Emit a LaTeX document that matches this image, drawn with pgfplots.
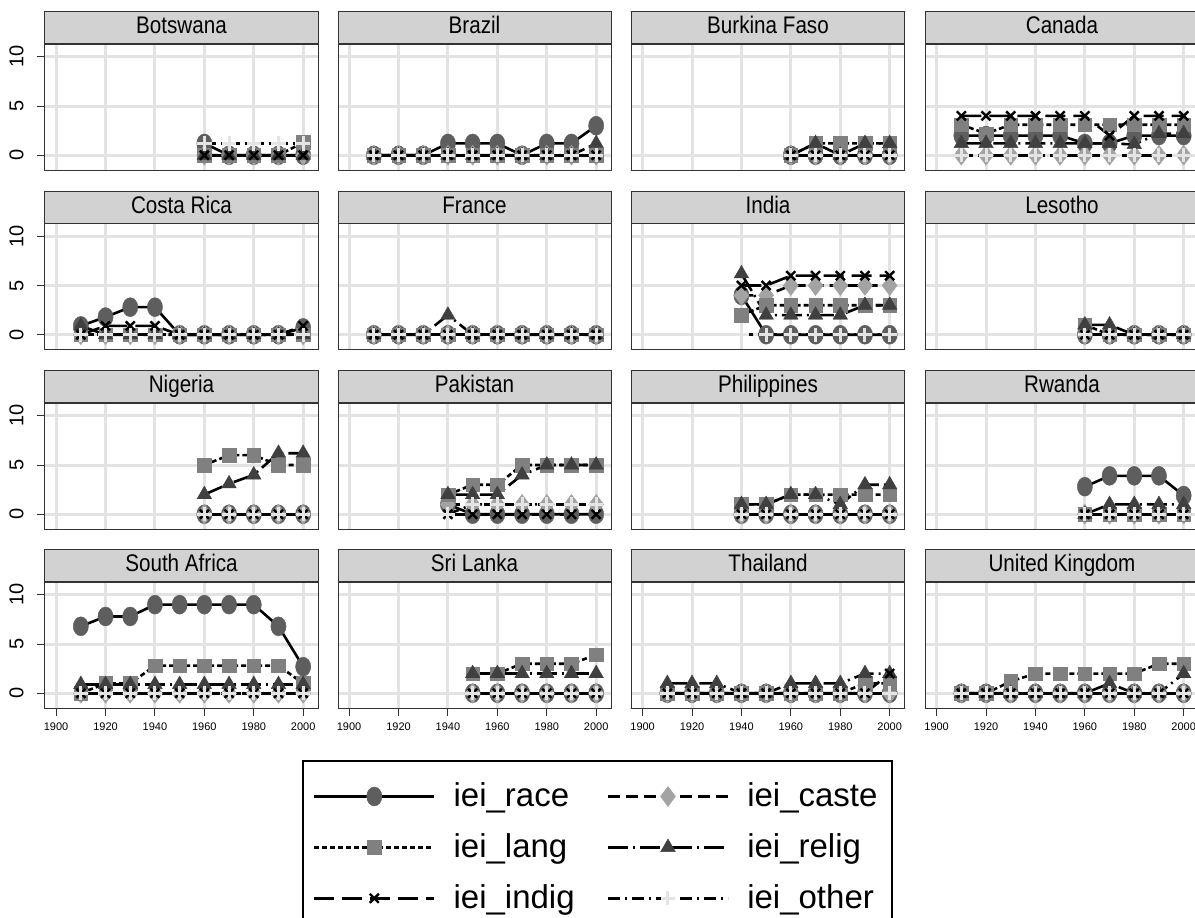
\documentclass[border=0pt]{standalone}
\usepackage{graphicx}
\usepackage{pgfplots}
\usepackage{pgfplotstable}
\pgfplotsset{compat=1.18}
\usepackage{fontspec}
\setmainfont{Liberation Sans}

\definecolor{cRace}{HTML}{5E5E5E}
\definecolor{cCaste}{HTML}{A3A3A3}
\definecolor{cLang}{HTML}{808080}
\definecolor{cRelig}{HTML}{404040}
\definecolor{cOther}{HTML}{E4E4E4}

% data: year race caste lang relig indig other
\pgfplotstableread{
year race caste lang relig indig other
1960 1.2 0 0 0 0 1.2
1970 0 0 0 0 0 1.2
1980 0 0 0 0 0 1.2
1990 0 0 0 0 0 1.2
2000 0 0 1.3 0 0 1.2
}\tBotswana
\pgfplotstableread{
year race caste lang relig indig other
1910 0 0 0 0 0 0
1920 0 0 0 0 0 0
1930 0 0 0 0 0 0
1940 1.2 0 0 0 0 0
1950 1.2 0 0 0 0 0
1960 1.2 0 0 0 0 0
1970 0 0 0 0 0 0
1980 1.2 0 0 0 0 0
1990 1.2 0 0 0 0 0
2000 3 0 0 1.2 0 0
}\tBrazil
\pgfplotstableread{
year race caste lang relig indig other
1960 0 0 0 0 0 0
1970 0 0 1.2 1.2 0 0
1980 0 0 1.2 0 0 0
1990 0 0 1.2 1.2 0 0
2000 0 0 1.2 1.2 0 0
}\tBurkina
\pgfplotstableread{
year race caste lang relig indig other
1910 2 0 3.1 1.2 4 0
1920 2 0 2.2 1.2 4 0
1930 2 0 3.1 1.2 4 0
1940 2 0 3.1 1.2 4 0
1950 2 0 3.1 1.2 4 0
1960 1.2 0 3.1 1.2 4 0
1970 1.2 0 3.1 1.2 2 0
1980 2 0 3.1 1.1 4 0
1990 2 0 3.1 2.2 4 0
2000 2 0 3.1 2.2 4 0
}\tCanada
\pgfplotstableread{
year race caste lang relig indig other
1910 0.9 0 0 0.9 0 0
1920 1.8 0 0 0 0.9 0
1930 2.8 0 0 0 0.9 0
1940 2.8 0 0 0 0.9 0
1950 0 0 0 0 0 0
1960 0 0 0 0 0 0
1970 0 0 0 0 0 0
1980 0 0 0 0 0 0
1990 0 0 0 0 0 0
2000 0.7 0 0 0 0.9 0
}\tCosta
\pgfplotstableread{
year race caste lang relig indig other
1910 0 0 0 0 0 0
1920 0 0 0 0 0 0
1930 0 0 0 0 0 0
1940 0 0 0 2 0 0
1950 0 0 0 0 0 0
1960 0 0 0 0 0 0
1970 0 0 0 0 0 0
1980 0 0 0 0 0 0
1990 0 0 0 0 0 0
2000 0 0 0 0 0 0
}\tFrance
\pgfplotstableread{
year race caste lang relig indig other
1940 4 4 2 6.2 5 0
1950 0 4 3 2 5 0
1960 0 5 3 2 6 0
1970 0 5 3 2 6 0
1980 0 5 3 2 6 0
1990 0 5 3 3 6 0
2000 0 5 3 3 6 0
}\tIndia
\pgfplotstableread{
year race caste lang relig indig other
1960 0 0 1 1 0 0
1970 0 0 0 1 0 0
1980 0 0 0 0 0 0
1990 0 0 0 0 0 0
2000 0 0 0 0 0 0
}\tLesotho
\pgfplotstableread{
year race caste lang relig indig other
1960 0 0 5 2 0 0
1970 0 0 6 3.1 0 0
1980 0 0 6 4 0 0
1990 0 0 5 6.2 0 0
2000 0 0 5 6.2 0 0
}\tNigeria
\pgfplotstableread{
year race caste lang relig indig other
1940 1 1 2 2 0 0
1950 0 1 3 2 0 1
1960 0 1 3 2 0 1
1970 0 1 5 4 0 1
1980 0 1 5 5 0 1
1990 0 1 5 5 0 1
2000 0 1 5 5 0 1
}\tPakistan
\pgfplotstableread{
year race caste lang relig indig other
1940 0 0 1 1 0 0
1950 0 0 1 1 0 0
1960 0 0 2 2 0 0
1970 0 0 2 2 0 0
1980 0 0 2 1 0 0
1990 0 0 2 3 0 0
2000 0 0 2 3 0 0
}\tPhilippines
\pgfplotstableread{
year race caste lang relig indig other
1960 2.8 0 0 0 0 0
1970 3.9 0 0 1 0 0
1980 3.9 0 0 1 0 0
1990 3.9 0 0 1 0 0
2000 1.9 0 0 1 0 0
}\tRwanda
\pgfplotstableread{
year race caste lang relig indig other
1910 6.8 0 0 0.9 0 0
1920 7.8 0 1 0.9 0 0
1930 7.8 0 1 0.9 0 0
1940 9 0 2.8 0.9 0 0
1950 9 0 2.8 0.9 0 0
1960 9 0 2.8 0.9 0 0
1970 9 0 2.8 0.9 0 0
1980 9 0 2.8 0.9 0 0
1990 6.8 0 2.8 0.9 0 0
2000 2.7 0 1 0.9 0 0
}\tSouthAfrica
\pgfplotstableread{
year race caste lang relig indig other
1950 0 0 2 2 0 0
1960 0 0 2 2 0 0
1970 0 0 3 2 0 0
1980 0 0 3 2 0 0
1990 0 0 3 2 0 0
2000 0 0 3.9 2 0 0
}\tSriLanka
\pgfplotstableread{
year race caste lang relig indig other
1910 0 0 0 1 0 0
1920 0 0 0 1 0 0
1930 0 0 0 1 0 0
1940 0 0 0 0 0 0
1950 0 0 0 0 0 0
1960 0 0 0 1 0 0
1970 0 0 0 1 0 0
1980 0 0 0 1 0 0
1990 0 0 1 2 0 0
2000 0 0 1 2 2 0
}\tThailand
\pgfplotstableread{
year race caste lang relig indig other
1910 0 0 0 0 0 0
1920 0 0 0 0 0 0
1930 0 0 1.2 0 0 0
1940 0 0 2 0 0 0
1950 0 0 2 0 0 0
1960 0 0 2 0 0 0
1970 0 0 2 1 0 0
1980 0 0 2 0 0 0
1990 0 0 3 0 0 0
2000 0 0 3 2 0 0
}\tUK

\pgfplotsset{
  legend image code/.code={\draw[mark repeat=2,mark phase=2,#1] plot coordinates {(0pt,0pt) (30pt,0pt) (60pt,0pt)};},
}
\newcommand{\hd}[1]{\scalebox{0.86}[1]{#1}}
\pgfplotsset{
  every axis title shift=0pt,
  ser/.style={line width=1.3pt, black},
  race/.style={ser, solid, mark=*, mark size=3.8pt,
    mark options={solid, draw=cRace, fill=cRace, yscale=1.25, line width=0.2pt}},
  caste/.style={ser, dash pattern=on 6pt off 3pt, mark=diamond*, mark size=5pt,
    mark options={solid, draw=cCaste, fill=cCaste, line width=0.2pt}},
  lang/.style={ser, dash pattern=on 2.5pt off 1.5pt, mark=square*, mark size=3.4pt,
    mark options={solid, draw=cLang, fill=cLang, line width=0.2pt}},
  relig/.style={ser, dash pattern=on 10pt off 2.5pt on 1pt off 2.5pt, mark=triangle*, mark size=4.2pt,
    mark options={solid, draw=cRelig, fill=cRelig, line width=0.2pt}},
  indig/.style={ser, dash pattern=on 10pt off 4pt, mark=x, mark size=3.2pt,
    mark options={solid, draw=black, line width=1.2pt}},
  other/.style={ser, dash pattern=on 6pt off 2.5pt on 1pt off 2.5pt, mark=+, mark size=3.6pt,
    mark options={solid, draw=cOther, line width=1.5pt}},
  panel/.style={
    scale only axis, width=136.5pt, height=63pt, anchor=north west,
    xmin=1895.5, xmax=2006, ymin=-1.5, ymax=11.3,
    xtick={1900,1920,1940,1960,1980,2000}, ytick={0,5,10},
    xticklabels={}, yticklabels={},
    grid=major, major grid style={line width=1.5pt, color=gray!22},
    axis line style={line width=0.5pt, black!80},
    tick pos=left, tick align=outside, major tick length=4pt,
    xtick style={draw=none}, ytick style={draw=none},
    clip=false,
    title style={at={(0.5,1)}, anchor=south, draw=black!80, line width=0.5pt,
      fill=gray!35, minimum width=136.5pt, minimum height=16pt, inner sep=0pt,
      text height=8.6pt, text depth=2.6pt,
      yshift=0pt, font=\fontsize{12}{14}\selectfont},
  },
  ylab/.style={yticklabels={0,5,10}, ytick style={draw=black!80, line width=0.5pt},
    yticklabel style={rotate=90, anchor=south, inner ysep=6.5pt, font=\fontsize{10}{10}\selectfont}},
  xlab/.style={xticklabels={1900,1920,1940,1960,1980,2000},
    xtick style={draw=black!80, line width=0.5pt},
    xticklabel style={font=\fontsize{5.5}{6}\selectfont}},
  leg/.style={
    legend entries={iei\_race, iei\_caste, iei\_lang, iei\_relig, iei\_indig, iei\_other},
    legend columns=2,
    legend style={at={(0.9414,-0.4127)}, anchor=north west, draw=black, line width=1pt,
      font=\fontsize{16.5}{18}\selectfont, inner xsep=5pt, inner ysep=9pt, row sep=8pt,
      cells={anchor=west},
      /tikz/every odd column/.append style={column sep=7pt},
      /tikz/every even column/.append style={column sep=14pt}}},
}

\newcommand{\panel}[5]{%
\begin{axis}[panel, at={(#1)}, title={\hd{#3}}, #5]
\addplot[race] table[x=year,y=race]{#4};
\addplot[caste] table[x=year,y=caste]{#4};
\addplot[lang] table[x=year,y=lang]{#4};
\addplot[relig] table[x=year,y=relig]{#4};
\addplot[indig] table[x=year,y=indig]{#4};
\addplot[other] table[x=year,y=other]{#4};
\end{axis}}

\begin{document}
\begin{tikzpicture}
% row 1
\panel{22.5pt,-22pt}{}{Botswana}{\tBotswana}{ylab}
\panel{169pt,-22pt}{}{Brazil}{\tBrazil}{}
\panel{315.75pt,-22pt}{}{Burkina Faso}{\tBurkina}{}
\panel{462.75pt,-22pt}{}{Canada}{\tCanada}{}
% row 2
\panel{22.5pt,-111.75pt}{}{Costa Rica}{\tCosta}{ylab}
\panel{169pt,-111.75pt}{}{France}{\tFrance}{}
\panel{315.75pt,-111.75pt}{}{India}{\tIndia}{}
\panel{462.75pt,-111.75pt}{}{Lesotho}{\tLesotho}{}
% row 3
\panel{22.5pt,-201.5pt}{}{Nigeria}{\tNigeria}{ylab}
\panel{169pt,-201.5pt}{}{Pakistan}{\tPakistan}{}
\panel{315.75pt,-201.5pt}{}{Philippines}{\tPhilippines}{}
\panel{462.75pt,-201.5pt}{}{Rwanda}{\tRwanda}{}
% row 4
\panel{22.5pt,-291pt}{}{South Africa}{\tSouthAfrica}{ylab, xlab, leg}
\panel{169pt,-291pt}{}{Sri Lanka}{\tSriLanka}{xlab}
\panel{315.75pt,-291pt}{}{Thailand}{\tThailand}{xlab}
\panel{462.75pt,-291pt}{}{United Kingdom}{\tUK}{xlab}
\pgfresetboundingbox
\path[use as bounding box] (0,0) rectangle (597.5pt,-458.5pt);
\end{tikzpicture}
\end{document}
